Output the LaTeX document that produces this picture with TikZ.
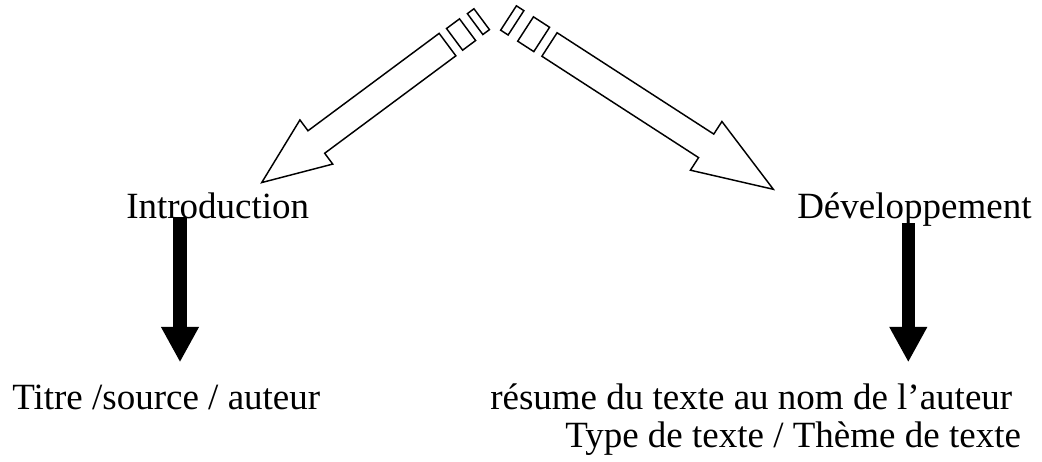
\documentclass[tikz,border=0pt]{standalone}
\usepackage{fontspec}
\setmainfont{Liberation Serif}
\usetikzlibrary{arrows.meta}

\tikzset{
  label text/.style={inner sep=0pt, anchor=base west, font=\fontsize{27.75}{33}\selectfont},
  hollow arrow/.style={draw=black, fill=white, line width=1.1pt, line join=miter},
  solid arrow/.style={draw=black, line width=10pt, -{Triangle[width=26.5pt,length=26.5pt]}},
}

\begin{document}
\begin{tikzpicture}[x=0.75pt, y=0.75pt]
  \useasboundingbox (0,0) rectangle (1042,461);

  % headings and their details
  \node[label text] (intro)  at (126,242)  {Introduction};
  \node[label text] (dev)    at (797,242)  {Développement};
  \node[label text] (titre)  at (12,52)    {Titre /source / auteur};
  \node[label text] (resume) at (490,52)   {résume du texte au nom de l’auteur};
  \node[label text] (type)   at (565,14)   {Type de texte / Thème de texte};

  % striped block arrow towards the introduction
  \begin{scope}[shift={(447.5,416.4)}, rotate=216.6]
    \path[hollow arrow] (0,14) -- (163.4,14) -- (163.4,27.5) -- (231.4,0)
      -- (163.4,-27.5) -- (163.4,-14) -- (0,-14) -- cycle;
    \path[hollow arrow] (-8.8,-13.5) rectangle (-25,13.5);
    \path[hollow arrow] (-34.4,-13) rectangle (-42.6,13);
  \end{scope}

  % striped block arrow towards the development
  \begin{scope}[shift={(549.5,416.5)}, rotate=-32.9]
    \path[hollow arrow] (0,14) -- (186.6,14) -- (186.6,29) -- (266.6,0)
      -- (186.6,-29) -- (186.6,-14) -- (0,-14) -- cycle;
    \path[hollow arrow] (-9.3,-14.5) rectangle (-28.5,14.5);
    \path[hollow arrow] (-39.9,-14.5) rectangle (-48.8,14.5);
  \end{scope}

  % thick downward arrows
  \coordinate (introfoot) at (180,244.3);
  \coordinate (titrehead) at (180,98.7);
  \coordinate (devfoot)   at (908.3,237.7);
  \coordinate (resumehead) at (908.3,98.7);
  \draw[solid arrow] (introfoot) -- (titrehead);
  \draw[solid arrow, line width=9.5pt] (devfoot) -- (resumehead);
\end{tikzpicture}
\end{document}
